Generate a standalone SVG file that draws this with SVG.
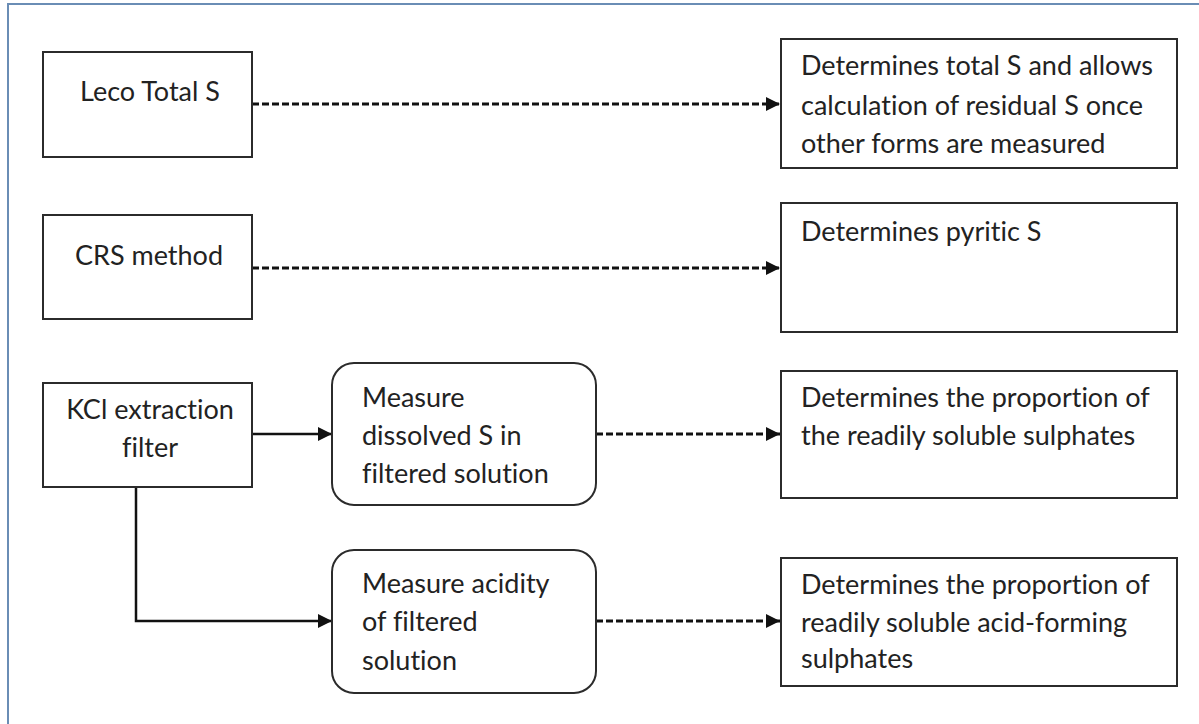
<svg xmlns="http://www.w3.org/2000/svg" width="1199" height="724" viewBox="0 0 1199 724">
  <style>
    .box { fill: #ffffff; stroke: #2b2b2b; stroke-width: 2; }
    .lbl { font-family: Lato, "Open Sans", "Liberation Sans", sans-serif; font-size: 27px; fill: #222222; font-variant-ligatures: none; }
    .mid { text-anchor: middle; }
    .solid { fill: none; stroke: #111111; stroke-width: 2.5; }
    .dash { fill: none; stroke: #111111; stroke-width: 2.8; stroke-dasharray: 7 3; }
  </style>
  <defs>
    <marker id="arrow" viewBox="0 0 14 14" refX="14" refY="7" markerWidth="14" markerHeight="14" markerUnits="userSpaceOnUse" orient="auto">
      <path d="M0,0 L14,7 L0,14 Z" fill="#111111"/>
    </marker>
  </defs>

  <rect width="1199" height="724" fill="#ffffff"/>
  <!-- outer frame -->
  <rect x="8" y="4" width="1200" height="740" fill="none" stroke="#6a8db5" stroke-width="2"/>

  <g id="connectors">
    <path class="dash" d="M252,104 H780" marker-end="url(#arrow)"/>
    <path class="dash" d="M252,268 H780" marker-end="url(#arrow)"/>
    <path class="solid" d="M252,434 H332" marker-end="url(#arrow)"/>
    <path class="solid" d="M136,487 V621 H332" marker-end="url(#arrow)"/>
    <path class="dash" d="M596,434 H780" marker-end="url(#arrow)"/>
    <path class="dash" d="M596,621 H780" marker-end="url(#arrow)"/>
  </g>

  <g id="leco">
    <rect class="box" x="43" y="52" width="209" height="105"/>
    <text class="lbl mid" x="150" y="101">Leco Total S</text>
  </g>

  <g id="crs">
    <rect class="box" x="43" y="215" width="209" height="104"/>
    <text class="lbl mid" x="149" y="265">CRS method</text>
  </g>

  <g id="kcl">
    <rect class="box" x="43" y="383" width="209" height="104"/>
    <text class="lbl mid" x="150" y="419">KCl extraction</text>
    <text class="lbl mid" x="150" y="457">filter</text>
  </g>

  <g id="dissolved">
    <rect class="box" x="332" y="363" width="264" height="142" rx="22" ry="22"/>
    <text class="lbl" x="362" y="407">Measure</text>
    <text class="lbl" x="362" y="445">dissolved S in</text>
    <text class="lbl" x="362" y="483">filtered solution</text>
  </g>

  <g id="acidity">
    <rect class="box" x="332" y="550" width="264" height="143" rx="22" ry="22"/>
    <text class="lbl" x="362" y="593">Measure acidity</text>
    <text class="lbl" x="362" y="631">of filtered</text>
    <text class="lbl" x="362" y="670">solution</text>
  </g>

  <g id="total">
    <rect class="box" x="781" y="39" width="396" height="129"/>
    <text class="lbl" x="801" y="75">Determines total S and allows</text>
    <text class="lbl" x="801" y="115">calculation of residual S once</text>
    <text class="lbl" x="801" y="153">other forms are measured</text>
  </g>

  <g id="pyritic">
    <rect class="box" x="781" y="203" width="396" height="129"/>
    <text class="lbl" x="801" y="241">Determines pyritic S</text>
  </g>

  <g id="soluble">
    <rect class="box" x="781" y="371" width="396" height="127"/>
    <text class="lbl" x="801" y="407">Determines the proportion of</text>
    <text class="lbl" x="801" y="445">the readily soluble sulphates</text>
  </g>

  <g id="acidforming">
    <rect class="box" x="781" y="558" width="396" height="128"/>
    <text class="lbl" x="801" y="594">Determines the proportion of</text>
    <text class="lbl" x="801" y="632">readily soluble acid-forming</text>
    <text class="lbl" x="801" y="668">sulphates</text>
  </g>
</svg>
